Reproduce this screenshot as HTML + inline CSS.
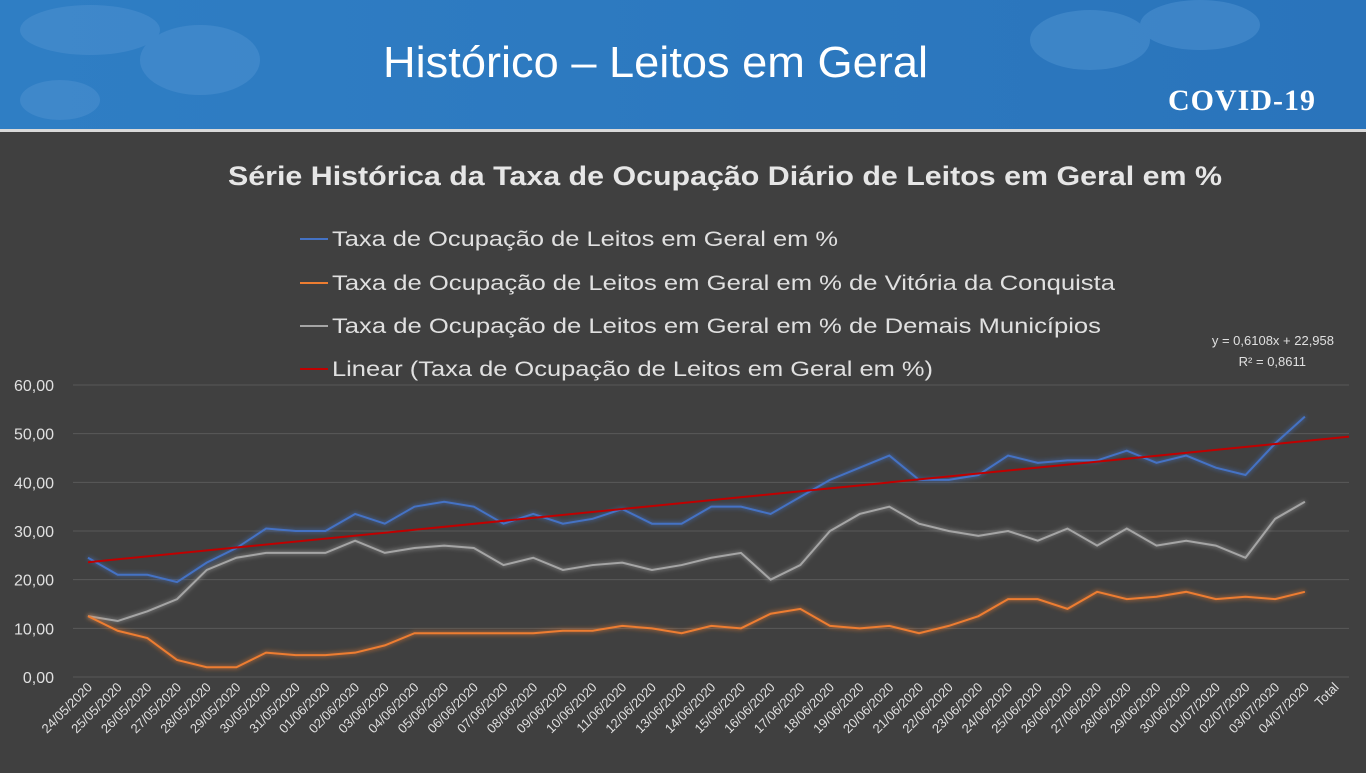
<!DOCTYPE html>
<html><head><meta charset="utf-8"><style>
body{margin:0;width:1366px;height:768px;overflow:hidden;background:#404040;font-family:"Liberation Sans",sans-serif}
</style></head><body>
<svg id="s" width="1366" height="768" xmlns="http://www.w3.org/2000/svg">
<defs>
<linearGradient id="hg" x1="0" x2="1"><stop offset="0" stop-color="#2f7ec4"/><stop offset="1" stop-color="#2a74bb"/></linearGradient>
<filter id="gl" x="-5%" y="-20%" width="110%" height="140%"><feGaussianBlur in="SourceGraphic" stdDeviation="2.5" result="b"/><feMerge><feMergeNode in="b"/><feMergeNode in="SourceGraphic"/></feMerge></filter>
</defs>
<rect x="0" y="0" width="1366" height="130" fill="url(#hg)"/>
<g fill="#4a8fcf" opacity="0.6">
<ellipse cx="90" cy="30" rx="70" ry="25"/><ellipse cx="200" cy="60" rx="60" ry="35"/><ellipse cx="60" cy="100" rx="40" ry="20"/>
<ellipse cx="1090" cy="40" rx="60" ry="30"/><ellipse cx="1200" cy="25" rx="60" ry="25"/>
</g>
<rect x="0" y="129" width="1366" height="3" fill="#d9d9d9"/>
<text x="383" y="77" font-size="44" fill="#fff" textLength="545" lengthAdjust="spacingAndGlyphs">Histórico – Leitos em Geral</text>
<text x="1242" y="110" font-size="30" font-weight="bold" fill="#fff" text-anchor="middle" font-family="Liberation Serif,serif" letter-spacing="1">COVID-19</text>
<text x="228" y="185" font-size="27" font-weight="bold" fill="#e6e6e6" textLength="994" lengthAdjust="spacingAndGlyphs">Série Histórica da Taxa de Ocupação Diário de Leitos em Geral em %</text>
<g font-size="21" fill="#e0e0e0">
<line x1="300" y1="239" x2="328" y2="239" stroke="#4472c4" stroke-width="2"/><text x="332" y="246" textLength="506" lengthAdjust="spacingAndGlyphs">Taxa de Ocupação de Leitos em Geral  em %</text>
<line x1="300" y1="283" x2="328" y2="283" stroke="#ed7d31" stroke-width="2"/><text x="332" y="290" textLength="783" lengthAdjust="spacingAndGlyphs">Taxa de Ocupação de Leitos em Geral  em % de Vitória da Conquista</text>
<line x1="300" y1="326" x2="328" y2="326" stroke="#a5a5a5" stroke-width="2"/><text x="332" y="333" textLength="769" lengthAdjust="spacingAndGlyphs">Taxa de Ocupação de Leitos em Geral  em % de Demais Municípios</text>
<line x1="300" y1="369" x2="328" y2="369" stroke="#c00000" stroke-width="2"/><text x="332" y="376" textLength="601" lengthAdjust="spacingAndGlyphs">Linear (Taxa de Ocupação de Leitos em Geral  em %)</text>
</g>
<text x="1334" y="345" font-size="13" fill="#e0e0e0" text-anchor="end">y = 0,6108x + 22,958</text>
<text x="1306" y="366" font-size="13" fill="#e0e0e0" text-anchor="end">R² = 0,8611</text>
<g id="g"></g>
</svg>
<script>
var g=document.getElementById('g'),h='';
function Y(v){return 677-v*4.867}
function X(i){return 88+i*29.68}
for(var v=0;v<=60;v+=10){var y=Y(v);h+='<line x1="73" y1="'+y+'" x2="1349" y2="'+y+'" stroke="#595959" stroke-width="1"/>';
h+='<text x="54" y="'+(y+6)+'" font-size="16" fill="#e0e0e0" text-anchor="end">'+v+',00</text>';}
var B=[24.5,21,21,19.5,23.5,26.5,30.5,30,30,33.5,31.5,35,36,35,31.5,33.5,31.5,32.5,34.5,31.5,31.5,35,35,33.5,37,40.5,43,45.5,40.5,40.5,41.5,45.5,44,44.5,44.5,46.5,44,45.5,43,41.5,48,53.5];
var O=[12.5,9.5,8,3.5,2,2,5,4.5,4.5,5,6.5,9,9,9,9,9,9.5,9.5,10.5,10,9,10.5,10,13,14,10.5,10,10.5,9,10.5,12.5,16,16,14,17.5,16,16.5,17.5,16,16.5,16,17.5];
var G=[12.5,11.5,13.5,16,22,24.5,25.5,25.5,25.5,28,25.5,26.5,27,26.5,23,24.5,22,23,23.5,22,23,24.5,25.5,20,23,30,33.5,35,31.5,30,29,30,28,30.5,27,30.5,27,28,27,24.5,32.5,36];
function pl(d,c){return '<polyline filter="url(#gl)" fill="none" stroke="'+c+'" stroke-width="2" points="'+d.map(function(v,i){return X(i)+','+Y(v)}).join(' ')+'"/>'}
h+=pl(G,'#a5a5a5')+pl(O,'#ed7d31')+pl(B,'#4472c4');
h+='<line x1="'+X(0)+'" y1="'+Y(23.57)+'" x2="1349" y2="'+Y(49.4)+'" stroke="#c00000" stroke-width="2"/>';
for(var i=0;i<43;i++){var t;if(i==42)t='Total';else{var dd=new Date(2020,4,24+i);t=('0'+dd.getDate()).slice(-2)+'/'+('0'+(dd.getMonth()+1)).slice(-2)+'/2020';}
var x=X(i)+5,y=688;h+='<text transform="translate('+x+','+y+') rotate(-45)" font-size="13" fill="#e0e0e0" text-anchor="end">'+t+'</text>';}
g.innerHTML=h;
</script>
</body></html>
